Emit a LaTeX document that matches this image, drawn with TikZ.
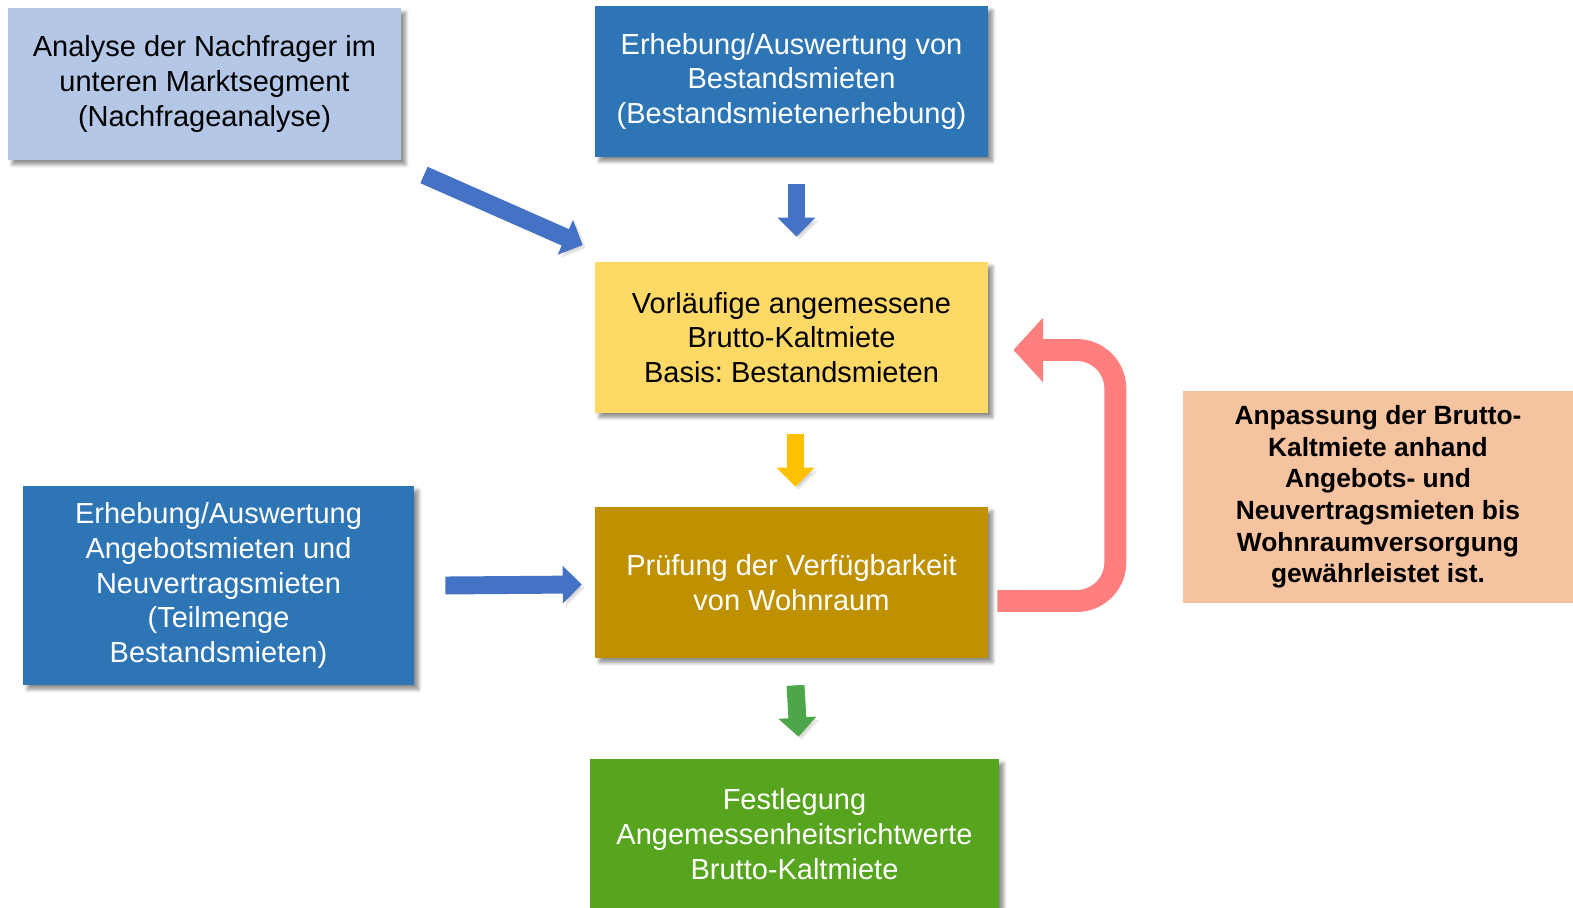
\documentclass[tikz,border=0pt]{standalone}
\usepackage{fontspec}
\setmainfont{Liberation Sans}
\usetikzlibrary{arrows.meta,calc,shadows.blur}
\frenchspacing

\definecolor{lightblue}{HTML}{B4C7E7}
\definecolor{darkblue}{HTML}{2E75B6}
\definecolor{boxyellow}{HTML}{FFD966}
\definecolor{boxbrown}{HTML}{BF9000}
\definecolor{boxgreen}{HTML}{57A41E}
\definecolor{boxpeach}{HTML}{F5C3A0}
\definecolor{arrowblue}{HTML}{4472C4}
\definecolor{arrowyellow}{HTML}{FFC000}
\definecolor{arrowgreen}{HTML}{4EA64A}
\definecolor{arrowpink}{HTML}{FF7F7F}

\tikzset{
  box/.style={rectangle, inner sep=0pt, align=center,
    font=\fontsize{16.5pt}{19.8pt}\selectfont,
    blur shadow={shadow xshift=2.5pt, shadow yshift=-2.5pt,
      shadow blur steps=6, shadow opacity=45}},
  boldbox/.style={rectangle, inner sep=0pt, align=center,
    font=\fontsize{15pt}{18pt}\selectfont\bfseries},
  blockarrow/.style={line width=10.2pt,
    -{Triangle[width=21pt,length=10.8pt]},
    preaction={draw=black!60, opacity=0.15,
      transform canvas={shift={(1.8pt,-1.8pt)}}}},
}

\begin{document}
\begin{tikzpicture}[x=0.02cm, y=-0.02cm]
  \useasboundingbox (0,0) rectangle (1573,908);

  % BOXES
  % left column
  \node[box, fill=lightblue, minimum width=393*0.02cm, minimum height=152*0.02cm]
    (analyse) at (204.5,84) {Analyse der Nachfrager im\\unteren Marktsegment\\(Nachfrageanalyse)};
  \node[box, fill=darkblue, text=white, minimum width=391*0.02cm, minimum height=199*0.02cm]
    (angebot) at (218.5,585.5) {Erhebung/Auswertung\\Angebotsmieten und\\Neuvertragsmieten\\(Teilmenge\\Bestandsmieten)};

  % middle column
  \node[box, fill=darkblue, text=white, minimum width=393*0.02cm, minimum height=151*0.02cm]
    (bestand) at (791.5,81.5) {Erhebung/Auswertung von\\Bestandsmieten\\(Bestandsmietenerhebung)};
  \node[box, fill=boxyellow, minimum width=393*0.02cm, minimum height=151*0.02cm]
    (vorl) at (791.5,337.5) {Vorläufige angemessene\\Brutto-Kaltmiete\\Basis: Bestandsmieten};
  \node[box, fill=boxbrown, text=white, minimum width=393*0.02cm, minimum height=151*0.02cm]
    (pruef) at (791.5,582.5) {Prüfung der Verfügbarkeit\\von Wohnraum};
  \node[box, fill=boxgreen, text=white, minimum width=409*0.02cm, minimum height=150*0.02cm]
    (fest) at (794.5,834) {Festlegung\\Angemessenheitsrichtwerte\\Brutto-Kaltmiete};

  % right column
  \node[boldbox, fill=boxpeach, minimum width=390*0.02cm, minimum height=212*0.02cm]
    (anpass) at (1378,497) {Anpassung der Brutto-\\Kaltmiete anhand\\Angebots- und\\Neuvertragsmieten bis\\Wohnraumversorgung\\gewährleistet ist.};

  % ARROWS
  \coordinate (diagstart) at (424,175);
  \coordinate (diagend) at (582.7,245);
  \draw[blockarrow, arrowblue] (diagstart) -- (diagend);

  \draw[blockarrow, arrowblue] ($(bestand.south)+(5,27)$) -- ($(vorl.north)+(5,-25)$);
  \draw[blockarrow, arrowyellow] ($(vorl.south)+(4,21)$) -- ($(pruef.north)+(4,-20)$);
  \draw[blockarrow, arrowgreen] ($(pruef.south)+(4,27)$) -- ($(fest.north)+(4,-22)$);
  \draw[blockarrow, arrowblue] ($(angebot.east)+(31,0)$) -- ($(pruef.west)+(-13,2)$);

  % loop back
  \coordinate (loopstart) at ($(pruef.east)+(9,18.5)$);
  \coordinate (loopend) at ($(vorl.east)+(25,12.5)$);
  \draw[arrowpink, line width=12.5pt, rounded corners=22pt,
    -{Triangle[width=36pt,length=17pt]}]
    (loopstart) -| ($(loopend)+(102,0)$) -- (loopend);
\end{tikzpicture}
\end{document}
